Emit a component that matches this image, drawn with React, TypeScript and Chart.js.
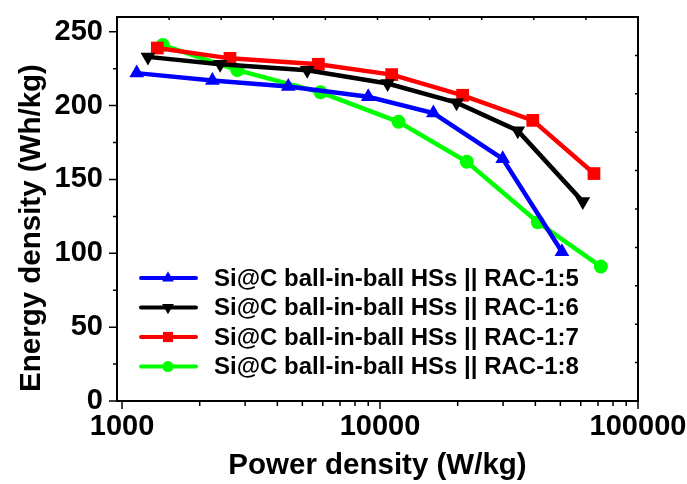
import React, { useEffect, useRef } from 'react';
import { Chart, registerables } from 'chart.js';
import { drawPoint } from 'chart.js/helpers';

Chart.register(...registerables);

// ---- data ----
const seriesLabels = [
  'Si@C ball-in-ball HSs || RAC-1:5',
  'Si@C ball-in-ball HSs || RAC-1:6',
  'Si@C ball-in-ball HSs || RAC-1:7',
  'Si@C ball-in-ball HSs || RAC-1:8',
];
const powerRAC15 = [1140, 2240, 4410, 9000, 16100, 29900, 50700];
const energyRAC15 = [222, 217, 213, 206, 195, 164, 101];
const powerRAC16 = [1260, 2400, 5220, 10700, 19800, 34200, 61100];
const energyRAC16 = [233, 228, 224, 215, 202, 183, 135];
const powerRAC17 = [1370, 2620, 5770, 11100, 20900, 39100, 67500];
const energyRAC17 = [239, 232, 228, 221, 207, 190, 154];
const powerRAC18 = [1440, 2800, 5880, 11800, 21700, 40900, 71800];
const energyRAC18 = [241, 224, 209, 189, 162, 121, 91];

const xTickValues = [
  1000, 2000, 3000, 4000, 5000, 6000, 7000, 8000, 9000,
  10000, 20000, 30000, 40000, 50000, 60000, 70000, 80000, 90000, 100000,
];
const xMajorTicks = [1000, 10000, 100000];
const yTickValues = [0, 25, 50, 75, 100, 125, 150, 175, 200, 225, 250];
const yMajorStep = 50;

const xTitle = 'Power density (W/kg)';
const yTitle = 'Energy density (Wh/kg)';

const colors = ['#0000ff', '#000000', '#ff0000', '#00ff00'];
const pointStyles = ['triangle', 'triangle', 'rect', 'circle'];
const pointRotations = [0, 180, 0, 0];
const pointRadii = [8.5, 8.5, 9, 7];

const FONT = '"Liberation Sans", Arial, Helvetica, sans-serif';

const toPoints = (xs: number[], ys: number[]) => xs.map((x, i) => ({ x, y: ys[i] }));

const zeroPadding = (scale: any) => {
  scale.paddingLeft = 0;
  scale.paddingRight = 0;
  scale.paddingTop = 0;
  scale.paddingBottom = 0;
};

const framePlugin = {
  id: 'frame',
  beforeDatasetsDraw(chart: any) {
    const { ctx, chartArea, scales } = chart;
    const { left, right, top, bottom } = chartArea;
    const x = scales.x;
    const y = scales.y;
    ctx.save();
    ctx.strokeStyle = '#000';
    ctx.lineWidth = 1.5;
    ctx.beginPath();
    for (const v of yTickValues) {
      const p = y.getPixelForValue(v);
      const len = v % yMajorStep === 0 ? 8 : 4;
      ctx.moveTo(left - len, p);
      ctx.lineTo(left, p);
    }
    for (const v of xTickValues) {
      const p = x.getPixelForValue(v);
      const len = xMajorTicks.includes(v) ? 8 : 5;
      ctx.moveTo(p, bottom);
      ctx.lineTo(p, bottom + len);
    }
    for (let k = 1; k < 10; k++) {
      const px = left + (k * (right - left)) / 10;
      ctx.moveTo(px, top);
      ctx.lineTo(px, top + 3);
      const py = top + (k * (bottom - top)) / 10;
      ctx.moveTo(right, py);
      ctx.lineTo(right - 3, py);
    }
    ctx.stroke();
    ctx.lineWidth = 2;
    ctx.strokeRect(left, top, right - left, bottom - top);
    ctx.restore();
  },
};

const legendPlugin = {
  id: 'customLegend',
  afterDatasetsDraw(chart: any) {
    const { ctx } = chart;
    const rows = [278, 307.5, 337, 366.5];
    ctx.save();
    seriesLabels.forEach((label, i) => {
      const yy = rows[i];
      ctx.strokeStyle = colors[i];
      ctx.fillStyle = colors[i];
      ctx.lineWidth = 4;
      ctx.lineCap = 'round';
      ctx.beginPath();
      ctx.moveTo(141, yy);
      ctx.lineTo(196, yy);
      ctx.stroke();
      drawPoint(
        ctx,
        { pointStyle: pointStyles[i], rotation: pointRotations[i], radius: pointRadii[i] * 0.8, borderWidth: 0 } as any,
        168,
        yy
      );
      ctx.fillStyle = '#000';
      ctx.font = `bold 24px ${FONT}`;
      ctx.textAlign = 'left';
      ctx.textBaseline = 'middle';
      ctx.fillText(label, 214, yy + 1);
    });
    // y axis title
    ctx.translate(32, 228);
    ctx.rotate(-Math.PI / 2);
    ctx.fillStyle = '#000';
    ctx.font = `bold 29.5px ${FONT}`;
    ctx.textAlign = 'center';
    ctx.textBaseline = 'middle';
    ctx.fillText(yTitle, 0, 0);
    ctx.restore();
  },
};

export default function App() {
  const canvasRef = useRef<HTMLCanvasElement | null>(null);

  useEffect(() => {
    const canvas = canvasRef.current;
    if (!canvas) return;
    const series = [
      toPoints(powerRAC15, energyRAC15),
      toPoints(powerRAC16, energyRAC16),
      toPoints(powerRAC17, energyRAC17),
      toPoints(powerRAC18, energyRAC18),
    ];
    const chart = new Chart(canvas, {
      type: 'line',
      data: {
        datasets: series.map((data, i) => ({
          label: seriesLabels[i],
          data,
          borderColor: colors[i],
          backgroundColor: colors[i],
          borderWidth: 4.5,
          pointStyle: pointStyles[i] as any,
          rotation: pointRotations[i],
          pointRadius: pointRadii[i],
          pointBorderWidth: 0,
          pointBackgroundColor: colors[i],
          tension: 0,
          clip: false as any,
        })),
      },
      options: {
        animation: false,
        responsive: false,
        layout: { padding: { top: 17, right: 49, bottom: 0, left: 0 } },
        plugins: { legend: { display: false }, tooltip: { enabled: false } },
        scales: {
          x: {
            type: 'logarithmic',
            min: 956,
            max: 100000,
            grid: { display: false, drawTicks: false },
            border: { display: false },
            afterBuildTicks: (scale: any) => {
              scale.ticks = xTickValues.map((v) => ({ value: v }));
            },
            afterFit: (scale: any) => {
              scale.height = 83;
              zeroPadding(scale);
            },
            ticks: {
              autoSkip: false,
              maxRotation: 0,
              padding: 9,
              color: '#000',
              font: { family: FONT, size: 29, weight: 'bold' },
              callback: (v: any) => (xMajorTicks.includes(Number(v)) ? String(v) : ''),
            },
            title: {
              display: true,
              text: xTitle,
              color: '#000',
              padding: { top: 0, bottom: 0 },
              font: { family: FONT, size: 29.5, weight: 'bold' },
            },
          },
          y: {
            type: 'linear',
            min: 0,
            max: 260,
            grid: { display: false, drawTicks: false },
            border: { display: false },
            afterBuildTicks: (scale: any) => {
              scale.ticks = yTickValues.map((v) => ({ value: v }));
            },
            afterFit: (scale: any) => {
              scale.width = 117;
              zeroPadding(scale);
            },
            ticks: {
              autoSkip: false,
              padding: 14,
              color: '#000',
              font: { family: FONT, size: 29, weight: 'bold' },
              callback: (v: any) => (Number(v) % yMajorStep === 0 ? String(v) : ''),
            },
          },
        },
      },
      plugins: [framePlugin, legendPlugin],
    } as any);
    return () => chart.destroy();
  }, []);

  return (
    <div style={{ position: 'absolute', left: 0, top: 0, width: 687, height: 484, background: '#fff' }}>
      <canvas ref={canvasRef} width={687} height={484} />
    </div>
  );
}
